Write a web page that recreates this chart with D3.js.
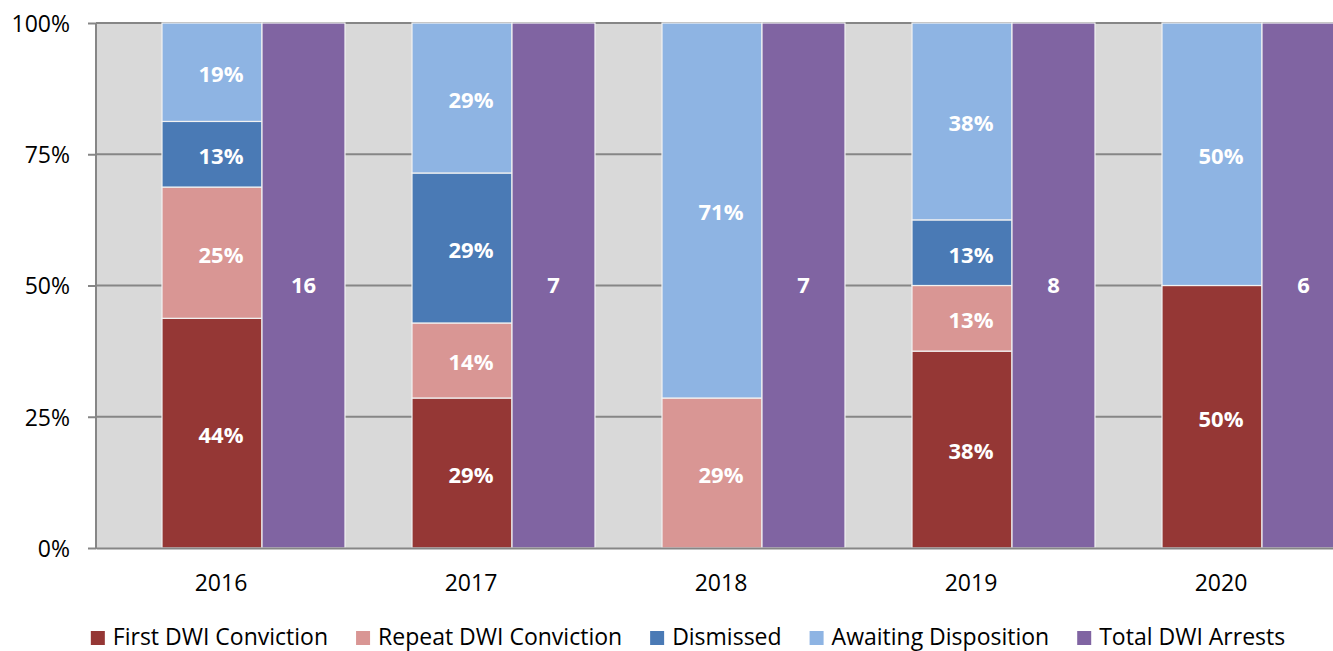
<!DOCTYPE html>
<html>
<head>
<meta charset="utf-8">
<script src="https://cdn.jsdelivr.net/npm/d3@7"></script>
<style>
  html, body { margin: 0; padding: 0; background: #fff; }
  text { font-family: "Open Sans", "Liberation Sans", sans-serif; }
</style>
</head>
<body>
<div id="chart"></div>
<script>
// years on the x axis
var years = ['2016', '2017', '2018', '2019', '2020'];
// share of arrests per outcome, in percent
var firstConviction = [43.75, 28.57, 0, 37.5, 50];
var repeatConviction = [25, 14.29, 28.57, 12.5, 0];
var dismissed = [12.5, 28.57, 0, 12.5, 0];
var awaiting = [18.75, 28.57, 71.43, 37.5, 50];
// total arrests per year (drawn as a full bar with the count)
var totalArrests = [16, 7, 7, 8, 6];
var yTicks = [0, 25, 50, 75, 100];

var seriesNames = ['First DWI Conviction', 'Repeat DWI Conviction', 'Dismissed', 'Awaiting Disposition', 'Total DWI Arrests'];
var colors = ['#953735', '#d99694', '#4a7ab5', '#8eb4e3', '#8064a2'];

var svgWidth = 1333;
var svgHeight = 651;
var plot = { left: 96, right: 1346, top: 23, bottom: 548 };

var svg = d3.select('#chart')
  .append('svg')
  .attr('width', svgWidth)
  .attr('height', svgHeight);

var x = d3.scaleBand()
  .domain(years)
  .range([plot.left, plot.right])
  .paddingInner(0)
  .paddingOuter(0);

var y = d3.scaleLinear()
  .domain([0, 100])
  .range([plot.bottom, plot.top]);

// stacked bar and total bar inside each category
var stackOffset = 66, stackWidth = 100;
var totalOffset = 166, totalWidth = 83;

// plot background
svg.append('rect')
  .attr('x', plot.left)
  .attr('y', plot.top)
  .attr('width', plot.right - plot.left)
  .attr('height', plot.bottom - plot.top)
  .attr('fill', '#d9d9d9');

// y axis with grid
var yAxis = d3.axisLeft(y)
  .tickValues(yTicks)
  .tickSize(8)
  .tickFormat(function (d) { return d + '%'; });
var yAxisG = svg.append('g')
  .attr('transform', 'translate(' + plot.left + ',0)')
  .call(yAxis);
yAxisG.select('.domain').remove();
yAxisG.selectAll('line').attr('stroke', '#868686').attr('stroke-width', 2);
yAxisG.selectAll('text')
  .attr('font-size', '23px')
  .attr('fill', '#000')
  .attr('x', -26)
  .attr('dy', '0.36em');

svg.append('g')
  .selectAll('line')
  .data(yTicks.filter(function (d) { return d > 0; }))
  .enter()
  .append('line')
  .attr('x1', plot.left)
  .attr('x2', plot.right)
  .attr('y1', function (d) { return y(d); })
  .attr('y2', function (d) { return y(d); })
  .attr('stroke', '#868686')
  .attr('stroke-width', 2);

// build stacked data
var table = years.map(function (yr, i) {
  return {
    year: yr,
    first: firstConviction[i],
    repeat: repeatConviction[i],
    dismissed: dismissed[i],
    awaiting: awaiting[i]
  };
});
var keys = ['first', 'repeat', 'dismissed', 'awaiting'];
var stacked = d3.stack().keys(keys)(table);

var layers = svg.append('g')
  .selectAll('g')
  .data(stacked)
  .enter()
  .append('g')
  .attr('fill', function (d, i) { return colors[i]; });

layers.selectAll('rect')
  .data(function (d) { return d; })
  .enter()
  .filter(function (d) { return d[1] - d[0] > 0; })
  .append('rect')
  .attr('x', function (d) { return x(d.data.year) + stackOffset; })
  .attr('width', stackWidth)
  .attr('y', function (d) { return y(d[1]); })
  .attr('height', function (d) { return y(d[0]) - y(d[1]); })
  .attr('stroke', '#f2f2f2')
  .attr('stroke-width', 1.2);

layers.selectAll('text')
  .data(function (d) { return d; })
  .enter()
  .filter(function (d) { return d[1] - d[0] > 0; })
  .append('text')
  .attr('x', function (d) { return x(d.data.year) + x.bandwidth() / 2; })
  .attr('y', function (d) { return (y(d[0]) + y(d[1])) / 2 + 2; })
  .attr('dy', '0.36em')
  .attr('text-anchor', 'middle')
  .attr('font-size', '22px')
  .attr('font-weight', 'bold')
  .attr('fill', '#fff')
  .text(function (d) { return Math.round(d[1] - d[0]) + '%'; });

// total arrests bars
var totals = svg.append('g')
  .selectAll('g')
  .data(years)
  .enter()
  .append('g');
totals.append('rect')
  .attr('x', function (d) { return x(d) + totalOffset; })
  .attr('width', totalWidth)
  .attr('y', y(100))
  .attr('height', y(0) - y(100))
  .attr('fill', colors[4])
  .attr('stroke', '#f2f2f2')
  .attr('stroke-width', 1.2);
totals.append('text')
  .attr('x', function (d) { return x(d) + totalOffset + totalWidth / 2; })
  .attr('y', y(50))
  .attr('dy', '0.36em')
  .attr('text-anchor', 'middle')
  .attr('font-size', '22px')
  .attr('font-weight', 'bold')
  .attr('fill', '#fff')
  .text(function (d, i) { return totalArrests[i]; });

// left axis line and bottom axis
svg.append('line')
  .attr('x1', plot.left).attr('x2', plot.left)
  .attr('y1', plot.top).attr('y2', plot.bottom + 1)
  .attr('stroke', '#868686').attr('stroke-width', 2);

var xAxis = d3.axisBottom(x).tickSize(0);
var xAxisG = svg.append('g')
  .attr('transform', 'translate(0,' + plot.bottom + ')')
  .call(xAxis);
xAxisG.select('.domain')
  .attr('stroke', '#868686')
  .attr('stroke-width', 2);
xAxisG.selectAll('text')
  .attr('font-size', '23px')
  .attr('fill', '#000')
  .attr('y', 43)
  .attr('dy', '0');

// legend
var legend = svg.append('g');
var items = legend.selectAll('g')
  .data(seriesNames)
  .enter()
  .append('g');
items.append('rect')
  .attr('width', 14)
  .attr('height', 14)
  .attr('y', 631)
  .attr('fill', function (d, i) { return colors[i]; });
items.append('text')
  .attr('x', 22)
  .attr('y', 645)
  .attr('font-size', '23px')
  .attr('fill', '#000')
  .text(function (d) { return d; });

var cursor = 0;
var positions = [];
items.each(function () {
  var w = d3.select(this).select('text').node().getComputedTextLength();
  positions.push(cursor);
  cursor += 22 + w + 28;
});
var legendWidth = cursor - 28;
var legendStart = 688 - legendWidth / 2;
items.attr('transform', function (d, i) {
  return 'translate(' + (legendStart + positions[i]) + ',0)';
});
</script>
</body>
</html>
